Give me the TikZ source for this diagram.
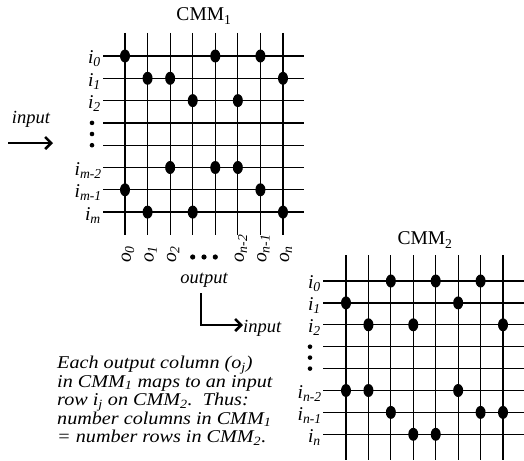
\documentclass[tikz,border=0pt]{standalone}
\usepackage{fontspec}
\setmainfont{Liberation Serif}
\newfontfamily\widefont[FakeStretch=1.12]{Liberation Serif}
\usetikzlibrary{arrows.meta}
\tikzset{
  gridline/.style={line width=1.2pt, black},
  thickrow/.style={line width=2.4pt, black},
  dotmark/.style={fill=black},
  lbl/.style={inner sep=0pt, font=\fontsize{19.5}{19.5}\selectfont},
  collbl/.style={inner sep=0pt, rotate=90, anchor=west, font=\fontsize{19.5}{19.5}\selectfont},
  itlbl/.style={inner sep=0pt, font=\fontsize{18.5}{18.5}\selectfont\itshape},
  bigarrow/.style={line width=2.6pt, -{Straight Barb[length=6pt,width=12pt,line width=2.6pt]}},
}
\newcommand{\iv}[1]{\textit{i}\textsubscript{\textit{#1}}}
\newcommand{\ov}[1]{\textit{o}\textsubscript{\textit{#1}}}
\begin{document}
\begin{tikzpicture}[x=1pt,y=-1pt]
\useasboundingbox (0,0) rectangle (524,460);
% ---------- CMM1 ----------
\node[lbl] (t1) at (204,16) {CMM\textsubscript{1}};
\foreach \k in {0,...,7} {
  \draw[gridline] ({125+22.57*\k},33) -- ({125+22.57*\k},235);
}
\foreach \k in {0,...,6} {
  \draw[gridline] (103,{56+22.3*\k}) -- (304,{56+22.3*\k});
}
\draw[thickrow] (103,{56+22.3*7}) -- (304,{56+22.3*7});
\foreach \c/\r in {0/0,4/0,6/0,1/1,2/1,7/1,3/2,5/2,2/5,4/5,5/5,0/6,6/6,1/7,3/7,7/7} {
  \fill[dotmark] ({125+22.57*\c},{56+22.3*\r}) ellipse [x radius=5, y radius=6.5];
}
\node[lbl, anchor=east] (a0) at (101,{56+3}) {\iv{0}};
\node[lbl, anchor=east] (a1) at (101,{78.3+3}) {\iv{1}};
\node[lbl, anchor=east] (a2) at (101,{100.6+3}) {\iv{2}};
\foreach \yy in {122.9,134,145.2} { \fill (92,\yy) circle (2.3); }
\node[lbl, anchor=east] (am2) at (102,{167.5+3}) {\iv{m-2}};
\node[lbl, anchor=east] (am1) at (102,{189.8+3}) {\iv{m-1}};
\node[lbl, anchor=east] (am) at (101,{212.1+3}) {\iv{m}};
% column labels
\node[collbl] (o0) at (128,263) {\ov{0}};
\node[collbl] (o1) at (150.6,263) {\ov{1}};
\node[collbl] (o2) at (173.1,263) {\ov{2}};
\foreach \xx in {192.7,204,215.3} { \fill (\xx,257) circle (2.6); }
\node[collbl] (on2) at (240.9,263) {\ov{n-2}};
\node[collbl] (on1) at (263.4,263) {\ov{n-1}};
\node[collbl] (on) at (286,263) {\ov{n}};
% input arrow (left)
\node[itlbl] (inL) at (31,119) {input};
\coordinate (inLa) at (8,143);
\coordinate (inLb) at (53,143);
\draw[bigarrow] (inLa) -- (inLb);
% output -> input
\node[itlbl] (outt) at (204,280) {output};
\node[itlbl, anchor=west] (inR) at (243,328) {input};
\coordinate (bend) at (201,325);
\draw[bigarrow] (outt.south -| bend) ++(0,6) -- (bend) -- (inR.west |- bend);
% ---------- CMM2 ----------
\node[lbl] (t2) at (425,240) {CMM\textsubscript{2}};
\foreach \k in {0,...,7} {
  \draw[gridline] ({346+22.43*\k},255) -- ({346+22.43*\k},460);
}
\foreach \k in {0,...,7} {
  \draw[gridline] (323,{281+21.9*\k}) -- (524,{281+21.9*\k});
}
\foreach \c/\r in {2/0,4/0,6/0,0/1,5/1,1/2,3/2,7/2,0/5,1/5,5/5,2/6,6/6,7/6,3/7,4/7} {
  \fill[dotmark] ({346+22.43*\c},{281+21.9*\r}) ellipse [x radius=5, y radius=6.5];
}
\node[lbl, anchor=east] (b0) at (321,{281+3}) {\iv{0}};
\node[lbl, anchor=east] (b1) at (321,{302.9+3}) {\iv{1}};
\node[lbl, anchor=east] (b2) at (321,{324.8+3}) {\iv{2}};
\foreach \yy in {346.7,357.6,368.6} { \fill (310,\yy) circle (2.3); }
\node[lbl, anchor=east] (bn2) at (322,{390.5+3}) {\iv{n-2}};
\node[lbl, anchor=east] (bn1) at (322,{412.4+3}) {\iv{n-1}};
\node[lbl, anchor=east] (bn) at (321,{434.3+3}) {\iv{n}};
% ---------- explanation ----------
\node[anchor=north west, inner sep=0pt, align=left,
      font=\widefont\fontsize{18}{18.5}\selectfont\itshape] (expl) at (57,356)
 {Each output column (o\textsubscript{j})\\
  in CMM\textsubscript{1} maps to an input\\
  row i\textsubscript{j} on CMM\textsubscript{2}.\ \ Thus:\\
  number columns in CMM\textsubscript{1}\\
  = number rows in CMM\textsubscript{2}.};
\end{tikzpicture}
\end{document}
